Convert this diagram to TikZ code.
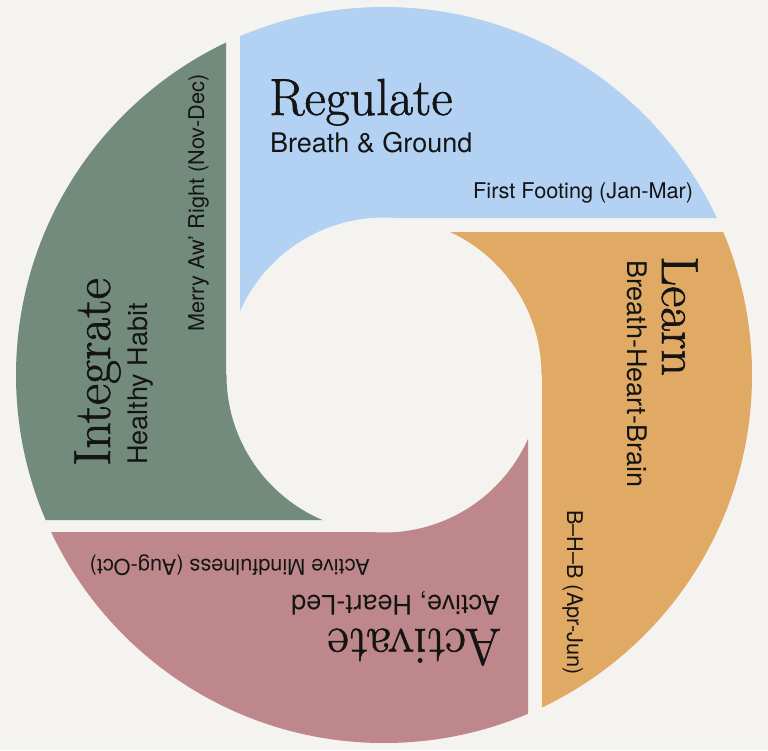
\documentclass[tikz,border=0pt]{standalone}
\usepackage{fontspec}
\newfontfamily\bodyfont{TeX Gyre Heros}
\newfontfamily\headfont{Latin Modern Roman}[FakeBold=1.2]
\definecolor{bgc}{HTML}{F4F3EF}
\definecolor{blueC}{HTML}{B3D1F3}
\definecolor{orangeC}{HTML}{E0AA64}
\definecolor{pinkC}{HTML}{BD878B}
\definecolor{greenC}{HTML}{738B7D}
\definecolor{ink}{HTML}{141414}
\tikzset{
  head/.style={inner sep=0pt, anchor=base west, text=ink, font=\headfont\fontsize{52}{52}\selectfont},
  sub/.style={inner sep=0pt, anchor=base west, text=ink, font=\bodyfont\fontsize{27}{27}\selectfont},
  note/.style={inner sep=0pt, anchor=base west, text=ink, font=\bodyfont\fontsize{21.7}{22}\selectfont},
  piece/.style={even odd rule}
}
\begin{document}
\begin{tikzpicture}[x=1pt,y=-1pt]
\useasboundingbox (0,0) rectangle (768,750);
\fill[bgc] (0,0) rectangle (768,750);
\coordinate (O) at (384,375);
% Regulate (blue)
\begin{scope}
\clip (240,0) -- (768,0) -- (768,218) -- (384,218) -- (384,375) -- (240,375) -- cycle;
\fill[blueC, piece] (O) circle[radius=368pt] (O) circle[radius=157.5pt];
\end{scope}
% Learn (orange)
\begin{scope}
\clip (384,232) -- (768,232) -- (768,750) -- (542,750) -- (542,375) -- (384,375) -- cycle;
\fill[orangeC, piece] (O) circle[radius=368pt] (O) circle[radius=157.5pt];
\end{scope}
% Activate (pink)
\begin{scope}
\clip (528,750) -- (0,750) -- (0,532) -- (384,532) -- (384,375) -- (528,375) -- cycle;
\fill[pinkC, piece] (O) circle[radius=368pt] (O) circle[radius=157.5pt];
\end{scope}
% Integrate (green)
\begin{scope}
\clip (0,520) -- (0,0) -- (226,0) -- (226,375) -- (384,375) -- (384,520) -- cycle;
\fill[greenC, piece] (O) circle[radius=368pt] (O) circle[radius=157.5pt];
\end{scope}
% texts
\node[head] (regT) at (269,115) {Regulate};
\node[sub] (regS) at (270,152) {Breath \& Ground};
\node[note] (regN) at (473,198) {First Footing (Jan-Mar)};

\node[head, rotate=-90] (lrnT) at (662,256) {Learn};
\node[sub, rotate=-90] (lrnS) at (627,260) {Breath-Heart-Brain};
\node[note, rotate=-90] (lrnN) at (567,510) {B–H–B (Apr-Jun)};

\node[head, rotate=180] (actT) at (501,629) {Activate};
\node[sub, rotate=180] (actS) at (500,595) {Active, Heart-Led};
\node[note, rotate=180] (actN) at (370,559) {Active Mindfulness (Aug-Oct)};

\node[head, rotate=90] (intT) at (110,466) {Integrate};
\node[sub, rotate=90] (intS) at (147,465) {Healthy Habit};
\node[note, rotate=90] (intN) at (204,332) {Merry Aw’ Right (Nov-Dec)};
\end{tikzpicture}
\end{document}
